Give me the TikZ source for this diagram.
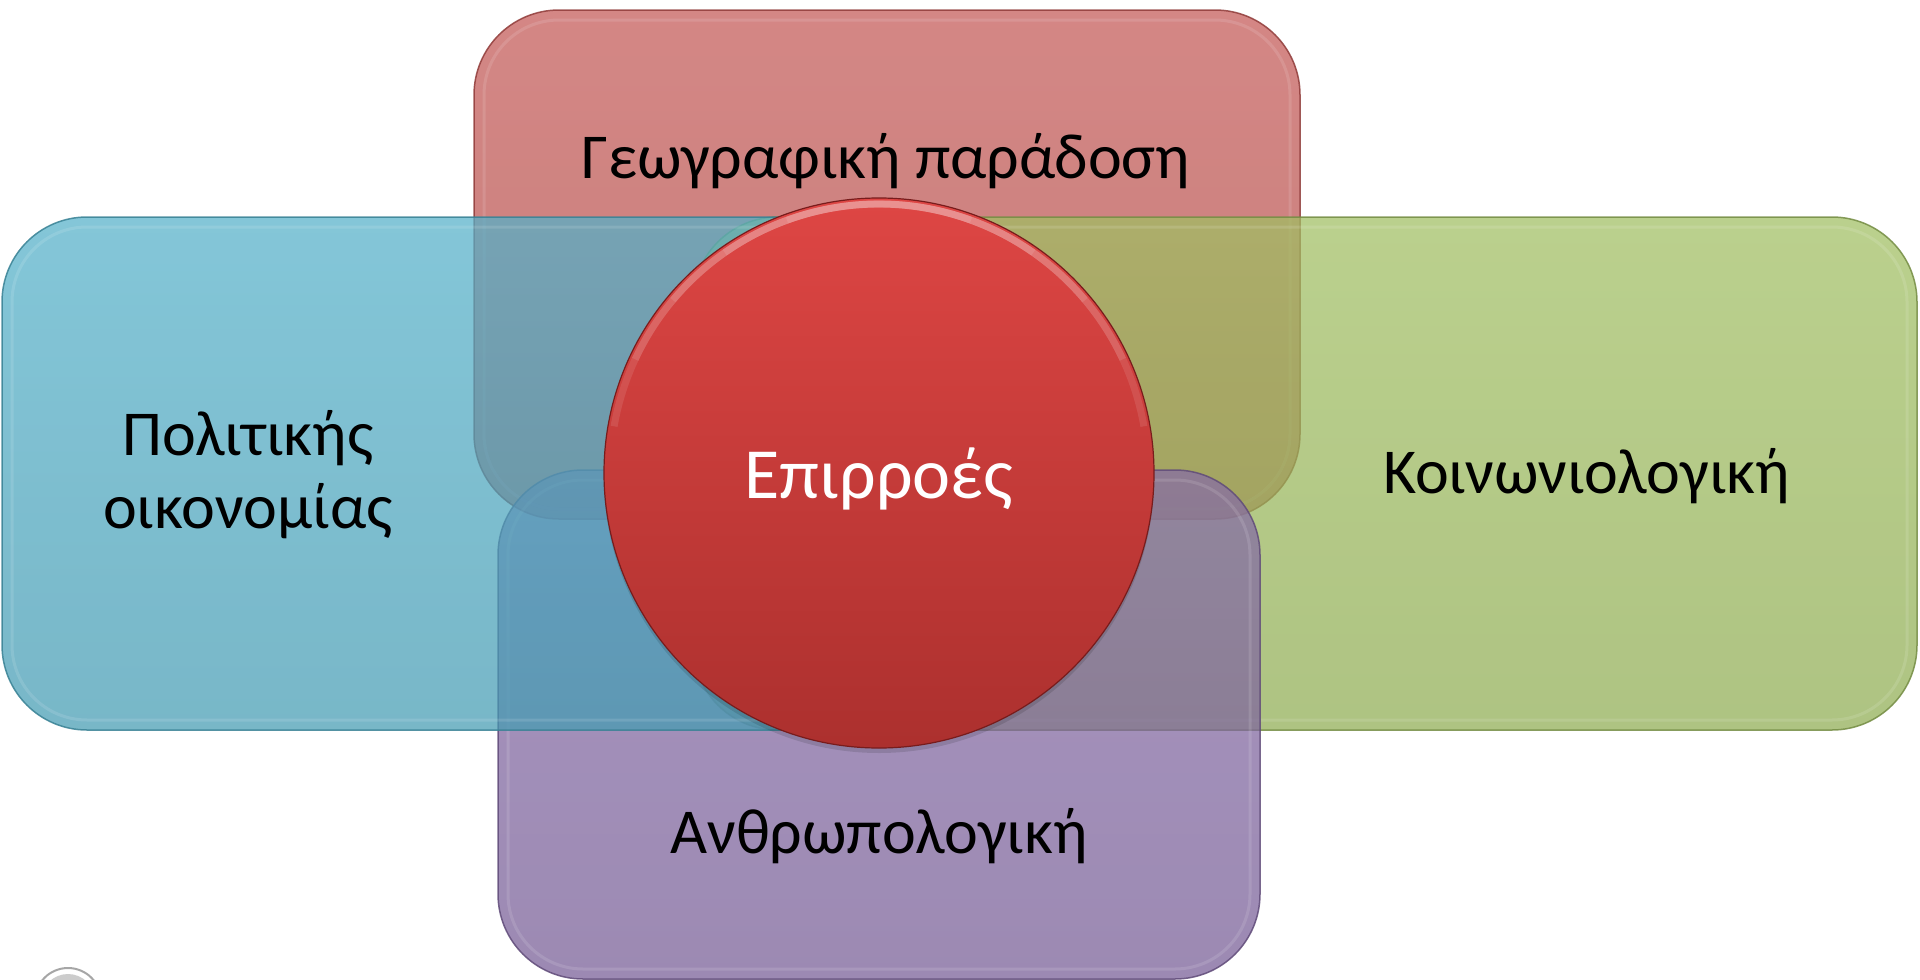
\documentclass[tikz,border=0pt]{standalone}
\usepackage{fontspec}
\setmainfont{Carlito}
\definecolor{cRed}{RGB}{192,80,77}
\definecolor{cBlue}{RGB}{75,172,198}
\definecolor{cGreen}{RGB}{155,187,89}
\definecolor{cPurple}{RGB}{128,100,162}
\definecolor{cCircTop}{RGB}{222,70,68}
\definecolor{cCircBot}{RGB}{172,48,46}
\definecolor{cCircLine}{RGB}{120,28,28}
\begin{document}
\begin{tikzpicture}[x=1pt,y=-1pt,
  petal/.style={rounded corners=85pt, fill opacity=0.72, draw opacity=0.85, line width=1.5pt},
  bevel/.style={rounded corners=75pt, draw=white, draw opacity=0.12, line width=3pt},
  rim/.style={white, opacity=0.1, line width=7pt},
  lbl/.style={font=\fontsize{64}{73}\selectfont, text=black, inner sep=0pt, anchor=base, align=center},
]
\useasboundingbox (0,0) rectangle (1920,980);
% top (red)
\shade[petal, top color=cRed!95!white, bottom color=cRed!92!black, draw=cRed!75!black] (474,10) rectangle (1300,519);
\draw[bevel] (484,20) rectangle (1290,509);
% right (green)
\shade[petal, top color=cGreen!95!white, bottom color=cGreen!92!black, draw=cGreen!75!black] (693,217) rectangle (1917,730);
\draw[bevel] (703,227) rectangle (1907,720);
% bottom (purple)
\shade[petal, top color=cPurple!95!white, bottom color=cPurple!92!black, draw=cPurple!75!black] (498,470) rectangle (1260,979);
\draw[bevel] (508,480) rectangle (1250,969);
% left (blue)
\shade[petal, top color=cBlue!95!white, bottom color=cBlue!90!black, draw=cBlue!75!black] (2,217) rectangle (1000,730);
\draw[bevel] (12,227) rectangle (990,720);
% centre circle
\fill[black, opacity=0.12] (879,478) circle (275);
\node[circle, minimum size=550pt, inner sep=0pt, draw=cCircLine, line width=1.2pt,
      top color=cCircTop, bottom color=cCircBot] (hub) at (879,473) {};
\foreach \a in {0,15,30,45,60} {
  \draw[rim] ([shift={(190+\a:269)}]hub.center) arc[start angle=190+\a, end angle=350-\a, radius=269];
}
% labels
\node[lbl] (geo) at (886,178) {Γεωγραφική παράδοση};
\node[lbl] (pol) at (248,528) {Πολιτικής\\οικονομίας};
\node[lbl] (soc) at (1587,493) {Κοινωνιολογική};
\node[lbl] (anth) at (879,853) {Ανθρωπολογική};
\node[lbl, font=\fontsize{72}{80}\selectfont, text=white] (infl) at (879,498) {Επιρροές};
% partial seal at bottom-left
\draw[gray!70, line width=2pt] (68,1001) circle (33);
\fill[gray!40] (68,1001) circle (27);
\end{tikzpicture}
\end{document}
